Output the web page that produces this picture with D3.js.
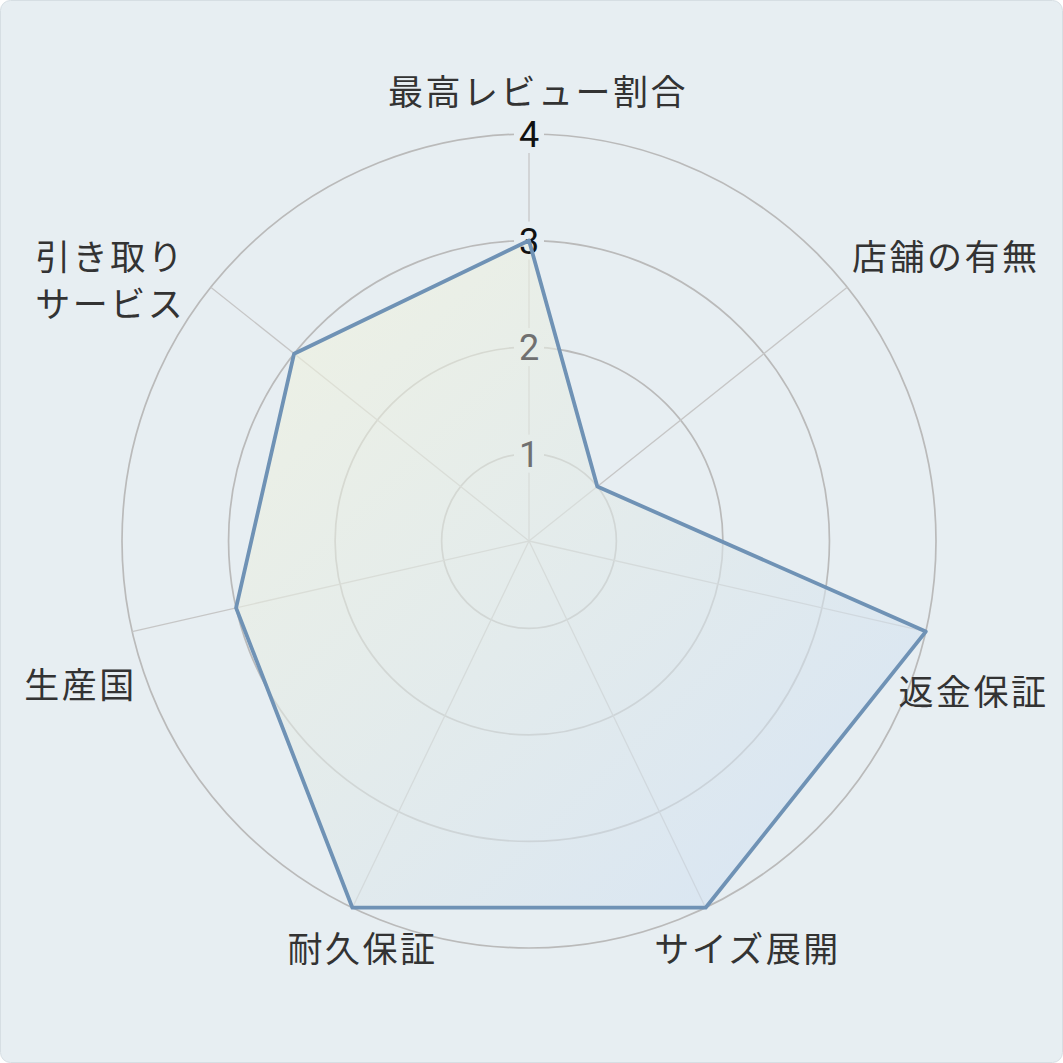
<!DOCTYPE html>
<html>
<head>
<meta charset="utf-8">
<script src="https://cdn.jsdelivr.net/npm/d3@7"></script>
<style>
  html, body { margin: 0; padding: 0; background: #ffffff; }
  svg { display: block; }
</style>
</head>
<body>
<div id="chart"></div>
<script>
// ---- data ----
const categories = [
  ["最高レビュー割合"],
  ["店舗の有無"],
  ["返金保証"],
  ["サイズ展開"],
  ["耐久保証"],
  ["生産国"],
  ["引き取り", "サービス"]
];
const values = [3, 1, 4, 4, 4, 3, 3];
const tickValues = [1, 2, 3, 4];
const tickLabels = ["1", "2", "3", "4"];

// ---- layout ----
const W = 1063, H = 1063;
const cx = 529, cy = 541;
const R = 407;
const labelRadius = 455;
const labelNudge = [[9, 7], [61, 0], [1, 51], [21, -1], [31, -1], [-5, 44], [-63, 24]];
const bg = "#e7eef2";

const svg = d3.select("#chart").append("svg")
  .attr("width", W).attr("height", H)
  .attr("viewBox", `0 0 ${W} ${H}`);

const defs = svg.append("defs");
const grad = defs.append("linearGradient")
  .attr("id", "fillGrad")
  .attr("x1", 0).attr("y1", 0).attr("x2", 1).attr("y2", 1);
grad.append("stop").attr("offset", "0%").attr("stop-color", "rgb(244,244,218)").attr("stop-opacity", 0.6);
grad.append("stop").attr("offset", "100%").attr("stop-color", "rgb(204,222,246)").attr("stop-opacity", 0.6);

svg.append("rect")
  .attr("x", 0.5).attr("y", 0.5)
  .attr("width", W - 1).attr("height", H - 1)
  .attr("rx", 10).attr("ry", 10)
  .attr("fill", bg).attr("stroke", "#d6dee3").attr("stroke-width", 1);

const n = categories.length;
const angle = d3.scaleLinear().domain([0, n]).range([0, 2 * Math.PI]);
const r = d3.scaleLinear().domain([0.18, 4]).range([0, R]);

const g = svg.append("g").attr("transform", `translate(${cx},${cy})`);

// rings
g.selectAll("circle.ring").data(tickValues).join("circle")
  .attr("class", "ring")
  .attr("r", d => r(d))
  .attr("fill", "none")
  .attr("stroke", "#bababa")
  .attr("stroke-width", 1.7);

// spokes
g.selectAll("line.spoke").data(d3.range(n)).join("line")
  .attr("class", "spoke")
  .attr("x1", 0).attr("y1", 0)
  .attr("x2", i => r(4) * Math.sin(angle(i)))
  .attr("y2", i => -r(4) * Math.cos(angle(i)))
  .attr("stroke", "#c6c6c6")
  .attr("stroke-width", 1.3);

// tick backdrops
g.selectAll("rect.tickbg").data(tickValues).join("rect")
  .attr("class", "tickbg")
  .attr("x", -15).attr("y", d => -r(d) - 19)
  .attr("width", 30).attr("height", 38)
  .attr("fill", bg);

// data polygon
const radial = d3.lineRadial()
  .angle((d, i) => angle(i))
  .radius(d => r(d))
  .curve(d3.curveLinearClosed);

g.append("path")
  .datum(values)
  .attr("d", radial)
  .attr("fill", "url(#fillGrad)")
  .attr("stroke", "none");

// tick labels
g.selectAll("text.tick").data(tickValues).join("text")
  .attr("class", "tick")
  .attr("x", 0)
  .attr("y", d => -r(d))
  .attr("text-anchor", "middle")
  .attr("dy", "0.36em")
  .attr("font-family", "Roboto, 'Noto Sans', sans-serif")
  .attr("font-size", 36)
  .attr("fill", d => d >= 3 ? "#111111" : "#707070")
  .text((d, i) => tickLabels[i]);

g.append("path")
  .datum(values)
  .attr("d", radial)
  .attr("fill", "none")
  .attr("stroke", "#6f92b5")
  .attr("stroke-width", 3.8)
  .attr("stroke-linejoin", "round");

// category labels
const lineH = 47;
const labels = g.selectAll("text.cat").data(categories).join("text")
  .attr("class", "cat")
  .attr("text-anchor", "middle")
  .attr("font-family", "'Noto Sans CJK JP', 'Noto Sans', sans-serif")
  .attr("font-size", 35)
  .attr("letter-spacing", 2.5)
  .attr("fill", "#333333")
  .attr("transform", (d, i) => {
    const x = labelRadius * Math.sin(angle(i)) + labelNudge[i][0];
    const y = -labelRadius * Math.cos(angle(i)) + labelNudge[i][1];
    return `translate(${x},${y})`;
  });
labels.each(function(d) {
  const t = d3.select(this);
  const off = -(d.length - 1) * lineH / 2;
  d.forEach((line, k) => {
    t.append("tspan")
      .attr("x", 0)
      .attr("y", off + k * lineH)
      .attr("dy", "0.35em")
      .text(line);
  });
});
</script>
</body>
</html>
